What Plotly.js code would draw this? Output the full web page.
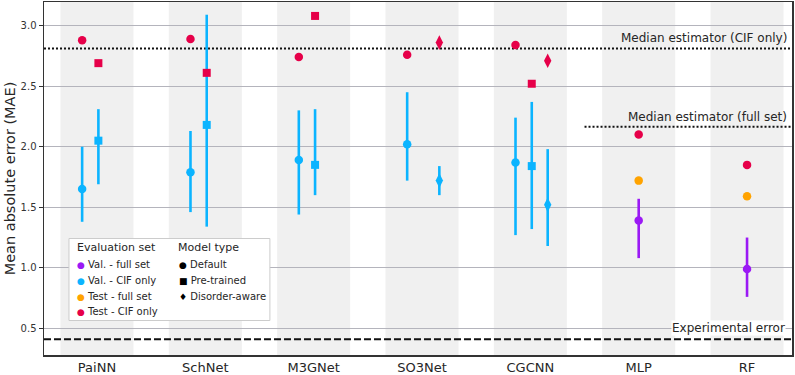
<!DOCTYPE html>
<html>
<head>
<meta charset="utf-8">
<script src="https://cdn.plot.ly/plotly-3.0.1.min.js"></script>
<style>html,body{margin:0;padding:0;background:#fff}#chart{width:795px;height:375px}</style>
</head>
<body>
<div id="chart"></div>
<script>
// ---------------- data ----------------
const categories = ['PaiNN', 'SchNet', 'M3GNet', 'SO3Net', 'CGCNN', 'MLP', 'RF'];

// Test - CIF only
const testCifDefault    = [2.88, 2.89, 2.74, 2.76, 2.84, 2.10, 1.85];
const testCifPretrained = [2.69, 2.61, 3.08, null, 2.52, null, null];
const testCifDisorder   = [null, null, null, 2.86, 2.71, null, null];

// Val - CIF only (mean, lower, upper)
const valCifDefault      = [1.65, 1.79, 1.89, 2.02, 1.87, null, null];
const valCifDefaultLo    = [1.38, 1.46, 1.44, 1.72, 1.27, null, null];
const valCifDefaultHi    = [2.00, 2.13, 2.30, 2.45, 2.24, null, null];
const valCifPretrained   = [2.05, 2.18, 1.85, null, 1.84, null, null];
const valCifPretrainedLo = [1.69, 1.34, 1.60, null, 1.32, null, null];
const valCifPretrainedHi = [2.31, 3.09, 2.31, null, 2.37, null, null];
const valCifDisorder     = [null, null, null, 1.72, 1.52, null, null];
const valCifDisorderLo   = [null, null, null, 1.60, 1.18, null, null];
const valCifDisorderHi   = [null, null, null, 1.84, 1.98, null, null];

// Test - full set
const testFullDefault = [null, null, null, null, null, 1.72, 1.59];
// Val - full set (mean, lower, upper)
const valFullDefault   = [null, null, null, null, null, 1.39, 0.99];
const valFullDefaultLo = [null, null, null, null, null, 1.08, 0.76];
const valFullDefaultHi = [null, null, null, null, null, 1.57, 1.25];

// reference lines
const medianCifOnly = 2.81;
const medianFullSet = 2.165;
const experimentalError = 0.41;

const evalSets = ['Val. - full set', 'Val. - CIF only', 'Test - full set', 'Test - CIF only'];
const modelTypes = ['Default', 'Pre-trained', 'Disorder-aware'];

// ---------------- styles ----------------
const colors = {
  'Val. - full set': '#9b19f5',
  'Val. - CIF only': '#0bb4ff',
  'Test - full set': '#ffa300',
  'Test - CIF only': '#e60049'
};
const symbols = {'Default': 'circle', 'Pre-trained': 'square', 'Disorder-aware': 'diamond-tall'};
const sizes = {'Default': 8.5, 'Pre-trained': 8, 'Disorder-aware': 10.5};
const offsets = {'Default': -0.137, 'Pre-trained': 0.013, 'Disorder-aware': 0.16};
const singleModelCats = ['MLP', 'RF'];

function xPos(ci, mt) {
  return singleModelCats.includes(categories[ci]) ? ci : ci + offsets[mt];
}

function makeTrace(evalSet, modelType, vals, lo, hi) {
  const x = [], y = [], ep = [], em = [];
  vals.forEach((v, i) => {
    if (v === null) return;
    x.push(xPos(i, modelType));
    y.push(v);
    if (lo) { em.push(v - lo[i]); ep.push(hi[i] - v); }
  });
  const t = {
    type: 'scatter', mode: 'markers', x: x, y: y,
    name: evalSet + ' / ' + modelType, showlegend: false, hoverinfo: 'x+y',
    marker: {color: colors[evalSet], symbol: symbols[modelType], size: sizes[modelType], line: {width: 0}}
  };
  if (lo) {
    t.error_y = {type: 'data', symmetric: false, array: ep, arrayminus: em,
                 color: colors[evalSet], thickness: 2.6, width: 0};
  }
  return t;
}

const traces = [
  makeTrace('Val. - CIF only', 'Default', valCifDefault, valCifDefaultLo, valCifDefaultHi),
  makeTrace('Val. - CIF only', 'Pre-trained', valCifPretrained, valCifPretrainedLo, valCifPretrainedHi),
  makeTrace('Val. - CIF only', 'Disorder-aware', valCifDisorder, valCifDisorderLo, valCifDisorderHi),
  makeTrace('Val. - full set', 'Default', valFullDefault, valFullDefaultLo, valFullDefaultHi),
  makeTrace('Test - full set', 'Default', testFullDefault),
  makeTrace('Test - CIF only', 'Default', testCifDefault),
  makeTrace('Test - CIF only', 'Pre-trained', testCifPretrained),
  makeTrace('Test - CIF only', 'Disorder-aware', testCifDisorder)
];

// ---------------- shapes ----------------
const shapes = [];
categories.forEach((c, i) => {
  shapes.push({type: 'rect', xref: 'x', yref: 'paper', x0: i - 0.337, x1: i + 0.337, y0: 0, y1: 1,
               fillcolor: '#f0f0f0', line: {width: 0}, layer: 'below'});
});
shapes.push({type: 'line', xref: 'paper', yref: 'y', x0: 0, x1: 1, y0: medianCifOnly, y1: medianCifOnly,
             line: {color: '#111', width: 2, dash: '2px,2px'}, layer: 'below'});
shapes.push({type: 'line', xref: 'x', yref: 'y', x0: 4.5, x1: 6.415, y0: medianFullSet, y1: medianFullSet,
             line: {color: '#111', width: 2, dash: '2px,2px'}, layer: 'below'});
shapes.push({type: 'line', xref: 'paper', yref: 'y', x0: 0, x1: 1, y0: experimentalError, y1: experimentalError,
             line: {color: '#111', width: 2, dash: '7px,3px'}, layer: 'below'});
// legend frame
shapes.push({type: 'rect', xref: 'paper', yref: 'paper', x0: 0.0334, x1: 0.302, y0: 0.0977, y1: 0.330,
             fillcolor: '#ffffff', line: {color: '#cccccc', width: 1}, layer: 'above'});

// ---------------- annotations ----------------
const txtColor = '#262626';
const annotations = [
  {xref: 'paper', yref: 'y', x: 1, y: 2.895, xanchor: 'right', yanchor: 'middle', xshift: -3,
   text: 'Median estimator (CIF only)', showarrow: false, font: {size: 12, color: txtColor}},
  {xref: 'paper', yref: 'y', x: 1, y: 2.248, xanchor: 'right', yanchor: 'middle', xshift: -3,
   text: 'Median estimator (full set)', showarrow: false, font: {size: 12, color: txtColor}},
  {xref: 'paper', yref: 'y', x: 1, y: 0.5, xanchor: 'right', yanchor: 'middle', xshift: -6,
   text: 'Experimental error', showarrow: false, bgcolor: '#ffffff', borderpad: 0,
   font: {size: 12, color: txtColor}}
];

// legend (manual, two titled columns)
const rowY = [0.255, 0.2105, 0.165, 0.1227];
annotations.push({xref: 'paper', yref: 'paper', x: 0.0414, y: 0.305, xanchor: 'left', yanchor: 'middle',
  text: 'Evaluation set', showarrow: false, font: {size: 11, color: txtColor}});
evalSets.forEach((s, i) => {
  annotations.push({xref: 'paper', yref: 'paper', x: 0.0414, y: rowY[i], xanchor: 'left', yanchor: 'middle',
    text: '<span style="color:' + colors[s] + ';font-size:9px">●</span> ' + s,
    showarrow: false, font: {size: 10, color: txtColor}});
});
annotations.push({xref: 'paper', yref: 'paper', x: 0.1765, y: 0.305, xanchor: 'left', yanchor: 'middle',
  text: 'Model type', showarrow: false, font: {size: 11, color: txtColor}});
const modelGlyph = {'Default': '●', 'Pre-trained': '■', 'Disorder-aware': '♦'};
modelTypes.forEach((m, i) => {
  annotations.push({xref: 'paper', yref: 'paper', x: 0.178, y: rowY[i], xanchor: 'left', yanchor: 'middle',
    text: '<span style="color:#000;font-size:9px">' + modelGlyph[m] + '</span> ' + m,
    showarrow: false, font: {size: 10, color: txtColor}});
});

// ---------------- layout ----------------
const layout = {
  width: 795, height: 375,
  margin: {l: 44, r: 3, t: 2, b: 20},
  paper_bgcolor: '#ffffff', plot_bgcolor: '#ffffff',
  font: {family: 'DejaVu Sans, sans-serif', color: txtColor},
  showlegend: false,
  xaxis: {
    range: [-0.489, 6.415], tickmode: 'array', tickvals: categories.map((c, i) => i), ticktext: categories,
    showgrid: false, zeroline: false, showline: true, mirror: true, linecolor: '#333', linewidth: 1.5,
    ticks: '', tickfont: {size: 13, color: txtColor}
  },
  yaxis: {
    range: [0.28, 3.195], tick0: 0.5, dtick: 0.5, tickformat: '.1f',
    showgrid: true, gridcolor: '#b4b4bc', gridwidth: 1.2, zeroline: false,
    showline: true, mirror: true, linecolor: '#333', linewidth: 1.5,
    ticks: 'outside', ticklen: 4, tickcolor: '#333', tickfont: {size: 10, color: '#333'},
    title: {text: 'Mean absolute error (MAE)', font: {size: 14.5, color: txtColor}, standoff: 1}
  },
  shapes: shapes,
  annotations: annotations
};

Plotly.newPlot('chart', traces, layout, {displayModeBar: false, staticPlot: true});
</script>
</body>
</html>
